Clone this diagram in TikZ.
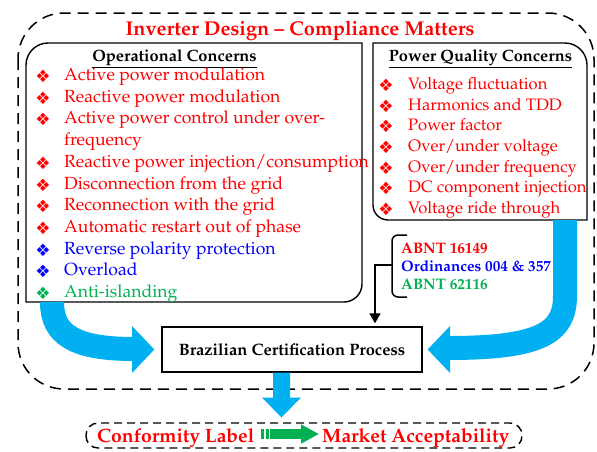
\documentclass[tikz,border=0pt]{standalone}
\usepackage{fontspec}
\newfontfamily\dingfont{DejaVu Sans}
\usepackage[T1]{fontenc}
\usepackage{mathpazo}
\usetikzlibrary{arrows.meta}

\definecolor{colorARW}{HTML}{00B0F0}
\definecolor{colorGRN}{HTML}{00B050}
\colorlet{colorRED}{red}
\colorlet{colorBLU}{blue}
\tikzset{
   every path/.style={>=Stealth},
   box/.style={draw,line width=1.4pt},
   outer/.style={draw,line width=1.5pt,dash pattern=on 11pt off 7pt},
   bul/.style={anchor=base,inner sep=0pt,yshift=-2pt,font=\dingfont\fontsize{17}{17}\selectfont},
   opitm/.style={anchor=base west,inner sep=0pt,font=\fontsize{17.6}{20}\selectfont},
   pqitm/.style={anchor=base west,inner sep=0pt,font=\fontsize{16.6}{20}\selectfont},
   hd/.style={anchor=base,inner sep=0pt,font=\bfseries\fontsize{16.4}{20}\selectfont},
   ttl/.style={anchor=base,inner sep=0pt,text=colorRED,font=\bfseries\fontsize{20}{24}\selectfont},
   std/.style={anchor=base west,inner sep=0pt,font=\bfseries\fontsize{15.2}{18}\selectfont},
   lbl/.style={anchor=base west,inner sep=0pt,text=colorRED,font=\bfseries\fontsize{19.3}{22}\selectfont},
   cbox/.style={draw,line width=1.4pt,minimum width=260pt,minimum height=45pt,font=\bfseries\fontsize{16.5}{20}\selectfont},
   bluarr/.style={line width=24pt,color=colorARW},
   bluhead/.style={fill=colorARW},
   blk/.style={->,line width=1.5pt,>={Triangle[length=10pt,width=11pt]}},
   grnarr/.style={line width=10pt,color=colorGRN,>={Triangle[length=18pt,width=18pt]},
     dash pattern=on 3pt off 1.5pt on 3pt off 1.5pt on 200pt off 0pt},
 }
\newcommand{\dop}[4]{%
  \node[bul,text=#3] (#1b) at (43,#2) {❖};
  \node[opitm,text=#3] (#1) at (64,#2) {#4}}
\newcommand{\dpq}[4]{%
  \node[bul,text=#3] (#1b) at (386,#2) {❖};
  \node[pqitm,text=#3] (#1) at (408,#2) {#4}}

\begin{document}
\begin{tikzpicture}[x=1pt,y=-1pt]
      \useasboundingbox (0,0) rectangle (597,451);
      \draw[outer,rounded corners=46pt] (18,13) rectangle (594,389);
      \node[ttl] (title) at (300,35) {Inverter Design -- Compliance Matters};

      % operational concerns
      \draw[box] (26,302) -- (26,65) .. controls (26,52.9) and (35.9,43) .. (48,43)
         -- (362,43) -- (362,284) .. controls (362,293.9) and (353.9,302) .. (344,302) -- cycle;
      \node[hd] (ophd) at (174.5,61) {\underline{Operational Concerns}};
      \dop{op1}{80.5}{colorRED}{Active power modulation};
      \dop{op2}{102.2}{colorRED}{Reactive power modulation};
      \dop{op3}{123.9}{colorRED}{Active power control under over-};
      \node[opitm,text=colorRED] (op3x) at (64,145.6) {frequency};
      \dop{op4}{167.3}{colorRED}{Reactive power injection/consumption};
      \dop{op5}{189}{colorRED}{Disconnection from the grid};
      \dop{op6}{210.7}{colorRED}{Reconnection with the grid};
      \dop{op7}{232.4}{colorRED}{Automatic restart out of phase};
      \dop{op8}{254.1}{colorBLU}{Reverse polarity protection};
      \dop{op9}{275.8}{colorBLU}{Overload};
      \dop{op10}{297.5}{colorGRN}{Anti-islanding};

      % power quality concerns
      \draw[box] (373,43) -- (565,43) .. controls (577.1,43) and (587,52.9) .. (587,65)
         -- (587,220) -- (388,220) .. controls (379.7,220) and (373,213.3) .. (373,205) -- cycle;
      \node[hd] (pqhd) at (480.5,61) {\underline{Power Quality Concerns}};
      \dpq{pq1}{89.3}{colorRED}{Voltage fluctuation};
      \dpq{pq2}{110}{colorRED}{Harmonics and TDD};
      \dpq{pq3}{130.7}{colorRED}{Power factor};
      \dpq{pq4}{151.4}{colorRED}{Over/under voltage};
      \dpq{pq5}{172.1}{colorRED}{Over/under frequency};
      \dpq{pq6}{192.8}{colorRED}{DC component injection};
      \dpq{pq7}{213.5}{colorRED}{Voltage ride through};

      % certification
      \node[cbox] (cert) at (292,349.5) {Brazilian Certification Process};

      % standards
      \node[std,text=colorRED] (abnt1) at (401,253) {ABNT 16149};
      \node[std,text=colorBLU] (ordi) at (401,271) {Ordinances 004 \& 357};
      \node[std,text=colorGRN] (abnt2) at (401,289) {ABNT 62116};
      \draw[line width=1.5pt,rounded corners=6pt] (407,235) -- (392,235) -- (392,297) -- (407,297);
      \coordinate (brc) at (392,265);
      \draw[blk,shorten >=3pt] (brc) -| ([xshift=83pt]cert.north);

      % blue arrows
      \draw[bluarr] (52,302) .. controls (52,335) and (75,349) .. (134,349);
      \fill[bluhead] (132,326) -- ([xshift=-7pt]cert.west) -- (132,373) -- cycle;
      \draw[bluarr] (565,220) -- (565,296) .. controls (565,333) and (540,348) .. (448,348);
      \fill[bluhead] (450,326) -- ([xshift=5pt]cert.east) -- (450,373) -- cycle;
      \coordinate (dn) at (281.5,372.5);
      \fill[bluhead] (dn) ++(-8.5,0) -- ++(0,25) -- ++(-11,0) -- ++(19.5,20)
         -- ++(19.5,-20) -- ++(-11,0) -- ++(0,-25) -- cycle;

      % conformity
      \draw[line width=1.4pt,dash pattern=on 8pt off 5pt,rounded corners=12pt] (86,423) rectangle (522,448);
      \node[lbl] (conf) at (97,442) {Conformity Label};
      \node[lbl] (mkt) at (322,442) {Market Acceptability};
      \draw[grnarr,->] ([shift={(7,-8)}]conf.base east) -- ([shift={(-3,-8)}]mkt.base west);
\end{tikzpicture}
\end{document}
